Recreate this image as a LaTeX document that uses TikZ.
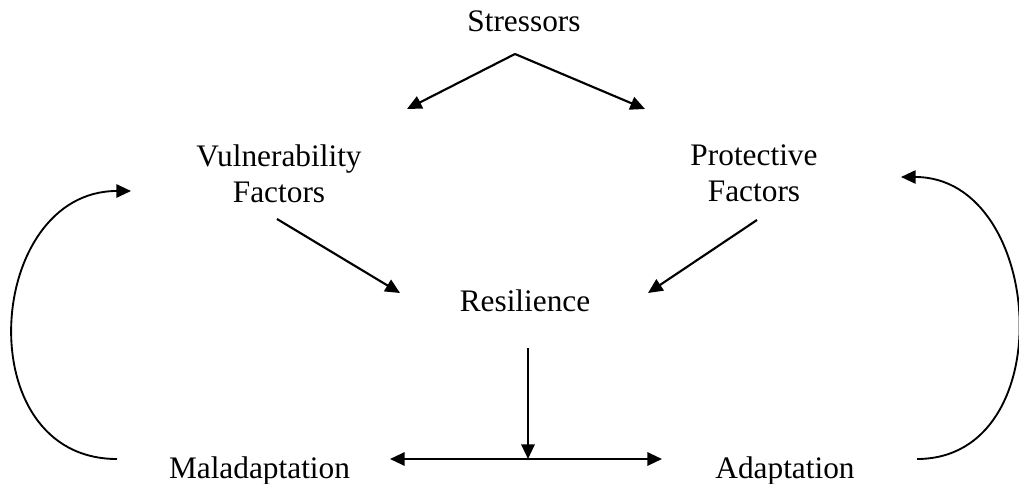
\documentclass[tikz,border=0pt]{standalone}
\usepackage{fontspec}
\setmainfont{Liberation Serif}
\usetikzlibrary{arrows.meta}

\tikzset{every picture/.style={line width=1.6pt}}
\tikzset{
  lbl/.style={inner sep=0.75pt, font=\fontsize{23.5}{27}\selectfont, align=center},
  arr/.style={-{Triangle[length=11pt,width=10pt]}},
  loop/.style={line width=1.4pt, -{Triangle[length=11pt,width=10pt]}},
}

\begin{document}
\begin{tikzpicture}[x=0.75pt,y=0.75pt,yscale=-1,xscale=1]
\useasboundingbox (0,0) rectangle (1019,484);

% Text Node
\node (stress) [lbl, anchor=base] at (524,31.5) {Stressors};
% Text Node
\node (vuln) [lbl] at (279,173.5) {Vulnerability\\Factors};
% Text Node
\node (prot) [lbl] at (754,173.5) {Protective\\Factors};
% Text Node
\node (res) [lbl, anchor=base] at (525,311.5) {Resilience};
% Text Node
\node (mal) [lbl, anchor=base] at (259.5,478) {Maladaptation};
% Text Node
\node (ada) [lbl, anchor=base] at (785,478) {Adaptation};

% arrow ends
\coordinate (split) at (515,54);
\coordinate (vulnIn) at (407,109);
\coordinate (protIn) at (645,109);
\coordinate (vulnOut) at (277,219);
\coordinate (resInL) at (400,293);
\coordinate (protOut) at (757,220);
\coordinate (resInR) at (648,293);
\coordinate (resOut) at (528,348);
\coordinate (join) at (528,459);
\coordinate (malIn) at (390,459);
\coordinate (adaIn) at (662,459);
\coordinate (malOut) at (117,459);
\coordinate (vulnBack) at (131,191);
\coordinate (adaOut) at (917,459);
\coordinate (protBack) at (901,177);

%Straight Lines
\draw [arr] (split) -- (vulnIn);
\draw [arr] (split) -- (protIn);
\draw [arr] (vulnOut) -- (resInL);
\draw [arr] (protOut) -- (resInR);
\draw [arr] (resOut) -- (join);
\draw [{Triangle[length=11pt,width=10pt]}-{Triangle[length=11pt,width=10pt]}] (malIn) -- (adaIn);

%Curve Lines
\draw [loop] (malOut) .. controls (-33,459) and (-15,191) .. (vulnBack);
\draw [loop] (adaOut) .. controls (1063,459) and (1045,177) .. (protBack);
\end{tikzpicture}
\end{document}
